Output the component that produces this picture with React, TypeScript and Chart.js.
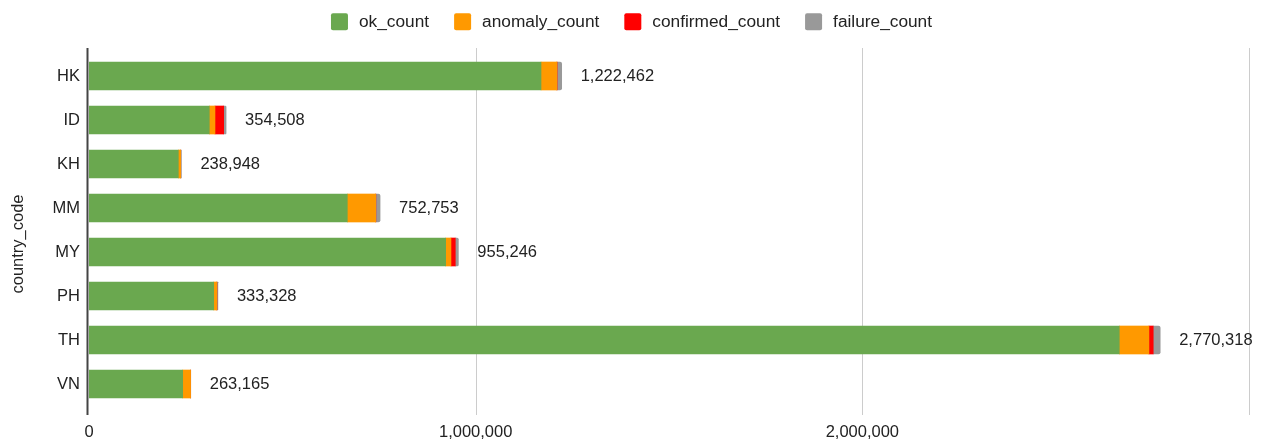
import React, { useEffect, useRef } from 'react';
import { Chart, registerables } from 'chart.js';

Chart.register(...registerables);

const categories = ['HK', 'ID', 'KH', 'MM', 'MY', 'PH', 'TH', 'VN'];
const okCount = [1169000, 311100, 231000, 668000, 922400, 322500, 2664500, 242300];
const anomalyCount = [41000, 14700, 6000, 73400, 13700, 8000, 76700, 20400];
const confirmedCount = [500, 22500, 200, 500, 11200, 300, 11100, 0];
const failureCount = [11962, 6208, 1748, 10853, 7946, 2528, 18018, 465];
const totalLabels = [1222462, 354508, 238948, 752753, 955246, 333328, 2770318, 263165];
const xTicks = [0, 1000000, 2000000, 3000000];
const seriesNames = ['ok_count', 'anomaly_count', 'confirmed_count', 'failure_count'];
const seriesColors = ['#6aa84f', '#ff9900', '#ff0000', '#999999'];
const axisTitle = 'country_code';

const FONT = '"Liberation Sans", Arial, sans-serif';
const TEXT = '#222222';

const overlay = {
  id: 'overlay',
  beforeDatasetsDraw(chart: any) {
    const { ctx, chartArea, scales } = chart;
    const x = scales.x;
    ctx.save();
    ctx.strokeStyle = '#cccccc';
    ctx.lineWidth = 1;
    x.ticks.forEach((t: any) => {
      if (t.value === 0) return;
      const px = Math.round(x.getPixelForValue(t.value)) + 0.5;
      ctx.beginPath();
      ctx.moveTo(px, chartArea.top - 6);
      ctx.lineTo(px, chartArea.bottom + 9);
      ctx.stroke();
    });
    ctx.restore();
  },
  afterDatasetsDraw(chart: any) {
    const { ctx, chartArea, scales } = chart;
    const x = scales.x;
    const y = scales.y;
    ctx.save();
    ctx.strokeStyle = '#444444';
    ctx.lineWidth = 2;
    const x0 = x.getPixelForValue(0) - 1.5;
    ctx.beginPath();
    ctx.moveTo(x0, chartArea.top - 6);
    ctx.lineTo(x0, chartArea.bottom + 9);
    ctx.stroke();
    ctx.fillStyle = TEXT;
    ctx.font = `16.5px ${FONT}`;
    ctx.textAlign = 'left';
    ctx.textBaseline = 'middle';
    totalLabels.forEach((v, i) => {
      const px = x.getPixelForValue(v) + 19;
      const py = y.getPixelForValue(i);
      ctx.fillText(v.toLocaleString('en-US'), px, py);
    });
    ctx.restore();
  },
  afterDraw(chart: any) {
    const { ctx, width } = chart;
    ctx.save();
    ctx.fillStyle = TEXT;
    ctx.font = `16.5px ${FONT}`;
    ctx.textAlign = 'center';
    ctx.textBaseline = 'middle';
    ctx.translate(18, 244);
    ctx.rotate(-Math.PI / 2);
    ctx.fillText(axisTitle, 0, 0);
    ctx.restore();

    ctx.save();
    ctx.font = `17.3px ${FONT}`;
    const box = 17;
    const gapText = 11;
    const gapItem = 25;
    const widths = seriesNames.map((n) => ctx.measureText(n).width);
    const total = widths.reduce((a, w) => a + box + gapText + w, 0) + gapItem * (seriesNames.length - 1);
    let cx = width / 2 - total / 2 - 2;
    const cy = 21.7;
    seriesNames.forEach((n, i) => {
      ctx.fillStyle = seriesColors[i];
      ctx.beginPath();
      (ctx as any).roundRect(cx, cy - box / 2, box, box, 2);
      ctx.fill();
      ctx.fillStyle = TEXT;
      ctx.textAlign = 'left';
      ctx.textBaseline = 'middle';
      ctx.fillText(n, cx + box + gapText, cy + 1);
      cx += box + gapText + widths[i] + gapItem;
    });
    ctx.restore();
  },
};

export default function App() {
  const ref = useRef<HTMLCanvasElement | null>(null);
  useEffect(() => {
    if (!ref.current) return;
    const values = [okCount, anomalyCount, confirmedCount, failureCount];
    const chart = new Chart(ref.current, {
      type: 'bar',
      data: {
        labels: categories,
        datasets: seriesNames.map((name, i) => ({
          label: name,
          data: values[i],
          backgroundColor: seriesColors[i],
          borderWidth: 0,
          barThickness: 28,
          borderRadius: i === 3 ? 2 : 0,
          borderSkipped: 'start',
        })),
      },
      options: {
        indexAxis: 'y',
        animation: false,
        responsive: true,
        maintainAspectRatio: false,
        layout: { padding: { top: 54, right: 18, left: 0, bottom: 0 } },
        plugins: {
          legend: { display: false },
          tooltip: { enabled: false },
        },
        scales: {
          x: {
            stacked: true,
            min: 0,
            max: 3000000,
            afterBuildTicks: (s: any) => {
              s.ticks = xTicks.map((v) => ({ value: v }));
            },
            grid: { display: false, drawTicks: false },
            border: { display: false },
            ticks: {
              padding: 17,
              color: TEXT,
              font: { size: 16.5, family: FONT },
              maxRotation: 0,
              callback: (v: any) => (Number(v) >= 3000000 ? '' : Number(v).toLocaleString('en-US')),
            },
            afterFit: (s: any) => {
              s.height = 33;
            },
          },
          y: {
            stacked: true,
            grid: { display: false, drawTicks: false },
            border: { display: false },
            ticks: {
              padding: 9,
              color: TEXT,
              font: { size: 16.5, family: FONT },
            },
            afterFit: (s: any) => {
              s.width = 89;
            },
          },
        },
      },
      plugins: [overlay],
    });
    return () => chart.destroy();
  }, []);
  return (
    <div style={{ position: 'fixed', left: 0, top: 0, width: 1267, height: 439, background: '#fff' }}>
      <canvas ref={ref} />
    </div>
  );
}
